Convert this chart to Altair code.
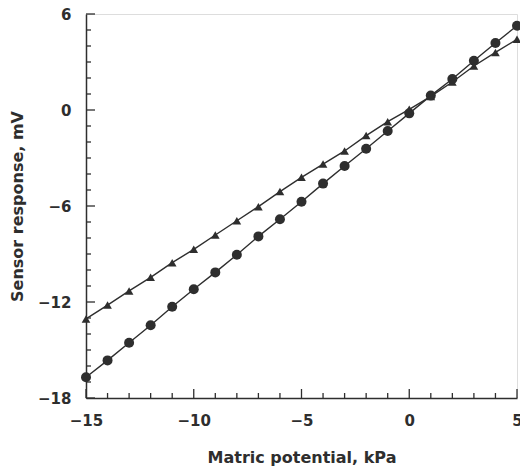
import altair as alt
import pandas as pd

# Data
potential = list(range(-15, 6))
circle_mv = [-16.7, -15.65, -14.55, -13.45, -12.3, -11.2, -10.15, -9.05, -7.9, -6.83,
             -5.73, -4.6, -3.5, -2.42, -1.31, -0.21, 0.9, 1.94, 3.08, 4.19, 5.27]
triangle_mv = [-13.06, -12.19, -11.31, -10.46, -9.54, -8.71, -7.81, -6.92, -6.04, -5.1,
               -4.21, -3.38, -2.56, -1.6, -0.73, 0.04, 0.85, 1.75, 2.75, 3.6, 4.42]

x_major_ticks = [-15, -10, -5, 0, 5]
x_minor_ticks = [v for v in range(-15, 6) if v not in x_major_ticks]
y_major_ticks = [-18, -12, -6, 0, 6]
y_minor_ticks = [v for v in range(-18, 7) if v not in y_major_ticks]

W, H = 431, 384
FONT = "DejaVu Sans"
INK = "#2e2e2e"

df = pd.DataFrame({
    "x": potential * 2,
    "y": circle_mv + triangle_mv,
    "series": ["circle"] * len(potential) + ["triangle"] * len(potential),
})

xscale = alt.Scale(domain=[-15, 5], nice=False, zero=False)
yscale = alt.Scale(domain=[-18, 6], nice=False, zero=False)

xaxis = alt.Axis(values=x_major_ticks, ticks=False, tickSize=0, grid=False,
                 title="Matric potential, kPa", titleFont=FONT, titleFontSize=16,
                 titleFontWeight="bold", titleColor=INK, titleBaseline="alphabetic",
                 titleY=64, labelFont=FONT, labelFontSize=15, labelFontWeight="bold",
                 labelColor=INK, labelBaseline="alphabetic", labelPadding=27,
                 domainColor=INK, domainWidth=1.5, labelFlush=False)
yaxis = alt.Axis(values=y_major_ticks, ticks=False, tickSize=0, grid=False,
                 title="Sensor response, mV", titleFont=FONT, titleFontSize=16,
                 titleFontWeight="bold", titleColor=INK, titleBaseline="alphabetic",
                 titleX=-64, titleAngle=270, labelFont=FONT, labelFontSize=15,
                 labelFontWeight="bold", labelColor=INK, labelPadding=15,
                 domainColor=INK, domainWidth=1.5, labelFlush=False)

base = alt.Chart(df)

lines = base.mark_line(color=INK, strokeWidth=1.4).encode(
    x=alt.X("x:Q", scale=xscale, axis=xaxis),
    y=alt.Y("y:Q", scale=yscale, axis=yaxis),
    detail="series:N",
)

points = base.mark_point(filled=True, color=INK, opacity=1).encode(
    x=alt.X("x:Q", scale=xscale),
    y=alt.Y("y:Q", scale=yscale),
    shape=alt.Shape("series:N", scale=alt.Scale(domain=["circle", "triangle"],
                                                range=["circle", "triangle-up"]),
                    legend=None),
    size=alt.Size("series:N", scale=alt.Scale(domain=["circle", "triangle"],
                                              range=[100, 75]), legend=None),
)

def xticks(vals, length):
    return alt.Chart(pd.DataFrame({"v": vals})).mark_rule(color=INK, strokeWidth=1.3).encode(
        x=alt.X("v:Q", scale=xscale),
        y=alt.value(H),
        y2=alt.value(H - length),
    )

def yticks(vals, length):
    return alt.Chart(pd.DataFrame({"v": vals})).mark_rule(color=INK, strokeWidth=1.3).encode(
        y=alt.Y("v:Q", scale=yscale),
        x=alt.value(0),
        x2=alt.value(length),
    )

chart = alt.layer(
    xticks(x_minor_ticks, 5), xticks(x_major_ticks, 9),
    yticks(y_minor_ticks, 5), yticks(y_major_ticks, 9),
    lines, points,
).properties(
    width=W, height=H,
    autosize=alt.AutoSizeParams(type="none"),
    padding={"left": 86, "top": 14, "right": 3, "bottom": 72},
).configure_view(stroke=None).configure(background="white")

chart.save("out.html", embed_options={"renderer": "svg", "actions": False})
